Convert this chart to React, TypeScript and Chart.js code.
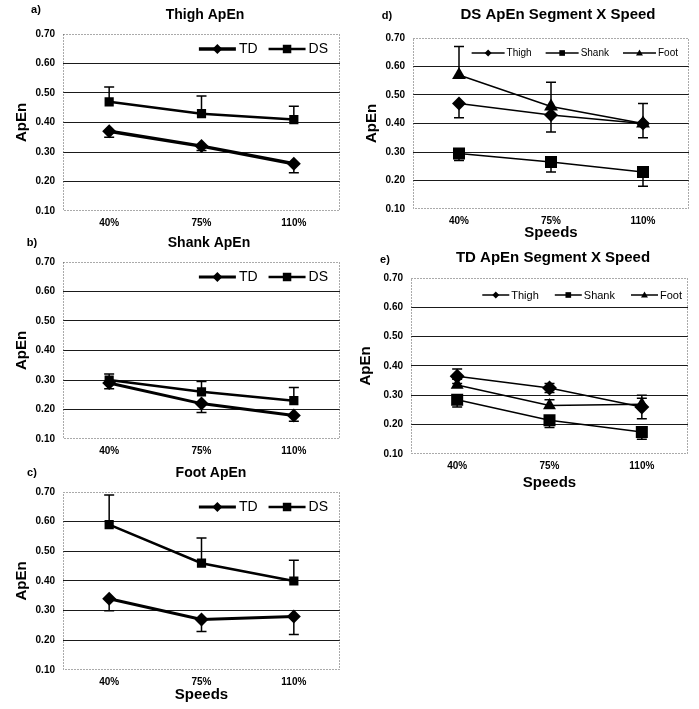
import React, { useEffect, useRef } from 'react';
import { Chart, registerables } from 'chart.js';

Chart.register(...registerables);

// ---------- data ----------
const speeds = ['40%', '75%', '110%'];

// a) Thigh ApEn
const thighTD = [0.37, 0.32, 0.26];
const thighTDsd = [0.02, 0.015, 0.03];
const thighDS = [0.47, 0.43, 0.41];
const thighDSsd = [0.05, 0.06, 0.045];

// b) Shank ApEn
const shankTD = [0.29, 0.22, 0.18];
const shankTDsd = [0.02, 0.03, 0.02];
const shankDS = [0.3, 0.26, 0.23];
const shankDSsd = [0.02, 0.035, 0.045];

// c) Foot ApEn
const footTD = [0.34, 0.27, 0.28];
const footTDsd = [0.04, 0.04, 0.06];
const footDS = [0.59, 0.46, 0.4];
const footDSsd = [0.1, 0.085, 0.07];

// d) DS ApEn Segment X Speed
const dsThigh = [0.47, 0.43, 0.4];
const dsThighSd = [0.05, 0.06, 0.05];
const dsShank = [0.295, 0.265, 0.23];
const dsShankSd = [0.025, 0.035, 0.05];
const dsFoot = [0.57, 0.46, 0.4];
const dsFootSd = [0.1, 0.085, 0.07];

// e) TD ApEn Segment X Speed
const tdThigh = [0.365, 0.325, 0.26];
const tdThighSd = [0.025, 0.015, 0.04];
const tdShank = [0.285, 0.215, 0.175];
const tdShankSd = [0.025, 0.025, 0.025];
const tdFoot = [0.335, 0.265, 0.27];
const tdFootSd = [0.02, 0.02, 0.02];

const yMin = 0.1;
const yMax = 0.7;
const yStep = 0.1;

const FONT = "'Liberation Sans', Arial, Helvetica, sans-serif";

type Series = {
  label: string;
  data: number[];
  sd: number[];
  dir: 'up' | 'down' | 'both';
  style: 'rectRot' | 'rect' | 'triangle';
  radius: number;
  lw: number;
  legendR: number;
  legendLw: number;
};

type Panel = {
  left: number; top: number; width: number; height: number;
  padTop: number; padRight: number; yWidth: number; xHeight: number;
  title: string; titleX: number; titleY: number; titleSize: number;
  letter: string; letterX: number; letterY: number;
  yTitlePad: number; xTitle: boolean; xTitlePad: number;
  legendSize: number; legendIconW: number; legendGap: number; legendSpacing: number;
  legendRight: number; legendDy: number;
  series: Series[];
};

function drawMarker(ctx: CanvasRenderingContext2D, style: string, x: number, y: number, r: number) {
  ctx.beginPath();
  if (style === 'rectRot') {
    ctx.moveTo(x, y - r); ctx.lineTo(x + r, y); ctx.lineTo(x, y + r); ctx.lineTo(x - r, y);
  } else if (style === 'rect') {
    const s = r * Math.SQRT1_2;
    ctx.rect(x - s, y - s, 2 * s, 2 * s);
  } else {
    for (let k = 0; k < 3; k++) {
      const a = (k * 2 * Math.PI) / 3;
      const px = x + Math.sin(a) * r;
      const py = y - Math.cos(a) * r * 1.0 + r * 0.15;
      if (k === 0) ctx.moveTo(px, py); else ctx.lineTo(px, py);
    }
  }
  ctx.closePath();
  ctx.fill();
}

function makeDecor(p: Panel) {
  return {
    id: 'decor',
    beforeDatasetsDraw(chart: any) {
      const { ctx, chartArea: ca } = chart;
      // dotted frame
      ctx.save();
      ctx.strokeStyle = '#555';
      ctx.lineWidth = 1;
      ctx.setLineDash([1, 2]);
      ctx.strokeRect(ca.left + 0.5, ca.top + 0.5, ca.right - ca.left - 1, ca.bottom - ca.top - 1);
      ctx.restore();
      // error bars
      const ys = chart.scales.y;
      chart.data.datasets.forEach((ds: any, i: number) => {
        const meta = chart.getDatasetMeta(i);
        meta.data.forEach((pt: any, j: number) => {
          const v = ds.data[j];
          const s = ds.sd ? ds.sd[j] : null;
          if (s == null) return;
          const x = pt.x;
          const y0 = ys.getPixelForValue(v);
          const ends: number[] = [];
          if (ds.errDir === 'up' || ds.errDir === 'both') ends.push(ys.getPixelForValue(v + s));
          if (ds.errDir === 'down' || ds.errDir === 'both') ends.push(ys.getPixelForValue(v - s));
          ctx.save();
          ctx.strokeStyle = '#000';
          ctx.lineWidth = 1.5;
          ends.forEach((ye) => {
            ctx.beginPath();
            ctx.moveTo(x, y0); ctx.lineTo(x, ye);
            ctx.moveTo(x - 5, ye); ctx.lineTo(x + 5, ye);
            ctx.stroke();
          });
          ctx.restore();
        });
      });
    },
    afterDraw(chart: any) {
      const { ctx, chartArea: ca } = chart;
      ctx.save();
      ctx.fillStyle = '#000';
      ctx.textBaseline = 'middle';
      ctx.textAlign = 'center';
      ctx.font = `bold ${p.titleSize}px ${FONT}`;
      ctx.fillText(p.title, p.titleX, p.titleY);
      ctx.font = `bold 11px ${FONT}`;
      ctx.fillText(p.letter, p.letterX, p.letterY);
      // legend
      ctx.font = `${p.legendSize}px ${FONT}`;
      const items = p.series.map((s) => ({ s, tw: ctx.measureText(s.label).width }));
      const total = items.reduce((acc, it) => acc + p.legendIconW + p.legendGap + it.tw, 0) + p.legendSpacing * (items.length - 1);
      let x = ca.right - p.legendRight - total;
      const y = ca.top + p.legendDy;
      ctx.textAlign = 'left';
      items.forEach((it) => {
        ctx.strokeStyle = '#000';
        ctx.lineWidth = it.s.legendLw;
        ctx.beginPath();
        ctx.moveTo(x, y); ctx.lineTo(x + p.legendIconW, y);
        ctx.stroke();
        drawMarker(ctx, it.s.style, x + p.legendIconW / 2, y, it.s.legendR);
        x += p.legendIconW + p.legendGap;
        ctx.fillText(it.s.label, x, y + 0.5);
        x += it.tw + p.legendSpacing;
      });
      ctx.restore();
    },
  };
}

const near = (a: number, b: number) => Math.abs(a - b) < 1e-6;

function PanelChart({ p }: { p: Panel }) {
  const ref = useRef<HTMLCanvasElement>(null);
  useEffect(() => {
    const chart = new Chart(ref.current as HTMLCanvasElement, {
      type: 'line',
      data: {
        labels: speeds,
        datasets: p.series.map((s) => ({
          label: s.label,
          data: s.data,
          sd: s.sd,
          errDir: s.dir,
          borderColor: '#000',
          backgroundColor: '#000',
          borderWidth: s.lw,
          pointStyle: s.style,
          pointRadius: s.radius,
          pointBackgroundColor: '#000',
          pointBorderColor: '#000',
          pointBorderWidth: 0,
          tension: 0,
        })) as any,
      },
      options: {
        responsive: false,
        animation: false,
        devicePixelRatio: 1,
        layout: { padding: { top: p.padTop, right: p.padRight, left: 0, bottom: 0 } },
        plugins: { legend: { display: false }, title: { display: false }, tooltip: { enabled: false } },
        scales: {
          x: {
            offset: true,
            grid: { display: false, drawTicks: false },
            border: { display: false },
            ticks: { color: '#000', font: { family: FONT, size: 10, weight: 'bold' }, padding: 6, maxRotation: 0 },
            title: {
              display: p.xTitle,
              text: 'Speeds',
              color: '#000',
              font: { family: FONT, size: 15, weight: 'bold' },
              padding: { top: 0, bottom: p.xTitlePad },
            },
            afterFit: (s: any) => { s.height = p.xHeight; },
          },
          y: {
            min: yMin,
            max: yMax,
            grid: {
              drawTicks: false,
              color: (c: any) => (c.tick && (near(c.tick.value, yMin) || near(c.tick.value, yMax)) ? 'rgba(0,0,0,0)' : '#1a1a1a'),
              lineWidth: 1,
            },
            border: { display: false },
            ticks: {
              stepSize: yStep,
              color: '#000',
              padding: 8,
              font: { family: FONT, size: 10, weight: 'bold' },
              callback: (v: any) => Number(v).toFixed(2),
            },
            title: {
              display: true,
              text: 'ApEn',
              color: '#000',
              font: { family: FONT, size: 15, weight: 'bold' },
              padding: { top: p.yTitlePad, bottom: 0 },
            },
            afterFit: (s: any) => { s.width = p.yWidth; },
          },
        },
      } as any,
      plugins: [makeDecor(p)],
    });
    return () => chart.destroy();
  }, [p]);
  return (
    <div style={{ position: 'absolute', left: p.left, top: p.top, width: p.width, height: p.height }}>
      <canvas ref={ref} width={p.width} height={p.height} style={{ width: p.width, height: p.height, display: 'block' }} />
    </div>
  );
}

const tdSeries = (data: number[], sd: number[], lw: number): Series => ({
  label: 'TD', data, sd, dir: 'down', style: 'rectRot', radius: 7, lw, legendR: 5, legendLw: lw,
});
const dsSeries = (data: number[], sd: number[], lw: number): Series => ({
  label: 'DS', data, sd, dir: 'up', style: 'rect', radius: 6.5, lw, legendR: 6, legendLw: lw,
});

const leftCommon = {
  width: 350, padRight: 10, yWidth: 63, yTitlePad: 13,
  legendSize: 14, legendIconW: 37, legendGap: 3, legendSpacing: 11, legendRight: 12, legendDy: 15,
};

const panels: Panel[] = [
  {
    ...leftCommon,
    left: 0, top: 0, height: 232, padTop: 34, xHeight: 21,
    title: 'Thigh ApEn', titleX: 205, titleY: 15, titleSize: 14,
    letter: 'a)', letterX: 36, letterY: 10, xTitle: false, xTitlePad: 0,
    series: [tdSeries(thighTD, thighTDsd, 3.5), dsSeries(thighDS, thighDSsd, 2.5)],
  },
  {
    ...leftCommon,
    left: 0, top: 232, height: 228, padTop: 30, xHeight: 21,
    title: 'Shank ApEn', titleX: 209, titleY: 11, titleSize: 14,
    letter: 'b)', letterX: 32, letterY: 11, xTitle: false, xTitlePad: 0,
    series: [tdSeries(shankTD, shankTDsd, 3), dsSeries(shankDS, shankDSsd, 2.5)],
  },
  {
    ...leftCommon,
    left: 0, top: 460, height: 249, padTop: 32, xHeight: 39,
    title: 'Foot ApEn', titleX: 211, titleY: 13, titleSize: 14,
    letter: 'c)', letterX: 32, letterY: 13, xTitle: true, xTitlePad: 5,
    series: [tdSeries(footTD, footTDsd, 3), dsSeries(footDS, footDSsd, 2.5)],
  },
  {
    left: 350, top: 0, width: 349, height: 242, padTop: 38, padRight: 10, yWidth: 63, xHeight: 33,
    title: 'DS ApEn Segment X Speed', titleX: 208, titleY: 15, titleSize: 15,
    letter: 'd)', letterX: 37, letterY: 16, yTitlePad: 13, xTitle: true, xTitlePad: 0,
    legendSize: 10, legendIconW: 33, legendGap: 2, legendSpacing: 14, legendRight: 11, legendDy: 15,
    series: [
      { label: 'Thigh', data: dsThigh, sd: dsThighSd, dir: 'down', style: 'rectRot', radius: 7, lw: 1.5, legendR: 3.5, legendLw: 1.5 },
      { label: 'Shank', data: dsShank, sd: dsShankSd, dir: 'down', style: 'rect', radius: 8.5, lw: 1.5, legendR: 4, legendLw: 1.5 },
      { label: 'Foot', data: dsFoot, sd: dsFootSd, dir: 'up', style: 'triangle', radius: 8, lw: 1.5, legendR: 4, legendLw: 1.5 },
    ],
  },
  {
    left: 350, top: 240, width: 349, height: 260, padTop: 38, padRight: 11, yWidth: 61, xHeight: 46,
    title: 'TD ApEn Segment X Speed', titleX: 203, titleY: 18, titleSize: 15,
    letter: 'e)', letterX: 35, letterY: 20, yTitlePad: 7, xTitle: true, xTitlePad: 8,
    legendSize: 11, legendIconW: 27, legendGap: 2, legendSpacing: 16, legendRight: 6, legendDy: 17,
    series: [
      { label: 'Thigh', data: tdThigh, sd: tdThighSd, dir: 'both', style: 'rectRot', radius: 7.5, lw: 1.5, legendR: 3.5, legendLw: 1.5 },
      { label: 'Shank', data: tdShank, sd: tdShankSd, dir: 'down', style: 'rect', radius: 8.5, lw: 1.5, legendR: 4, legendLw: 1.5 },
      { label: 'Foot', data: tdFoot, sd: tdFootSd, dir: 'up', style: 'triangle', radius: 7.5, lw: 1.5, legendR: 4, legendLw: 1.5 },
    ],
  },
];

export default function App() {
  return (
    <div style={{ position: 'fixed', left: 0, top: 0, width: 699, height: 709, background: '#fff', overflow: 'hidden' }}>
      {panels.map((p, i) => (
        <PanelChart key={i} p={p} />
      ))}
    </div>
  );
}
